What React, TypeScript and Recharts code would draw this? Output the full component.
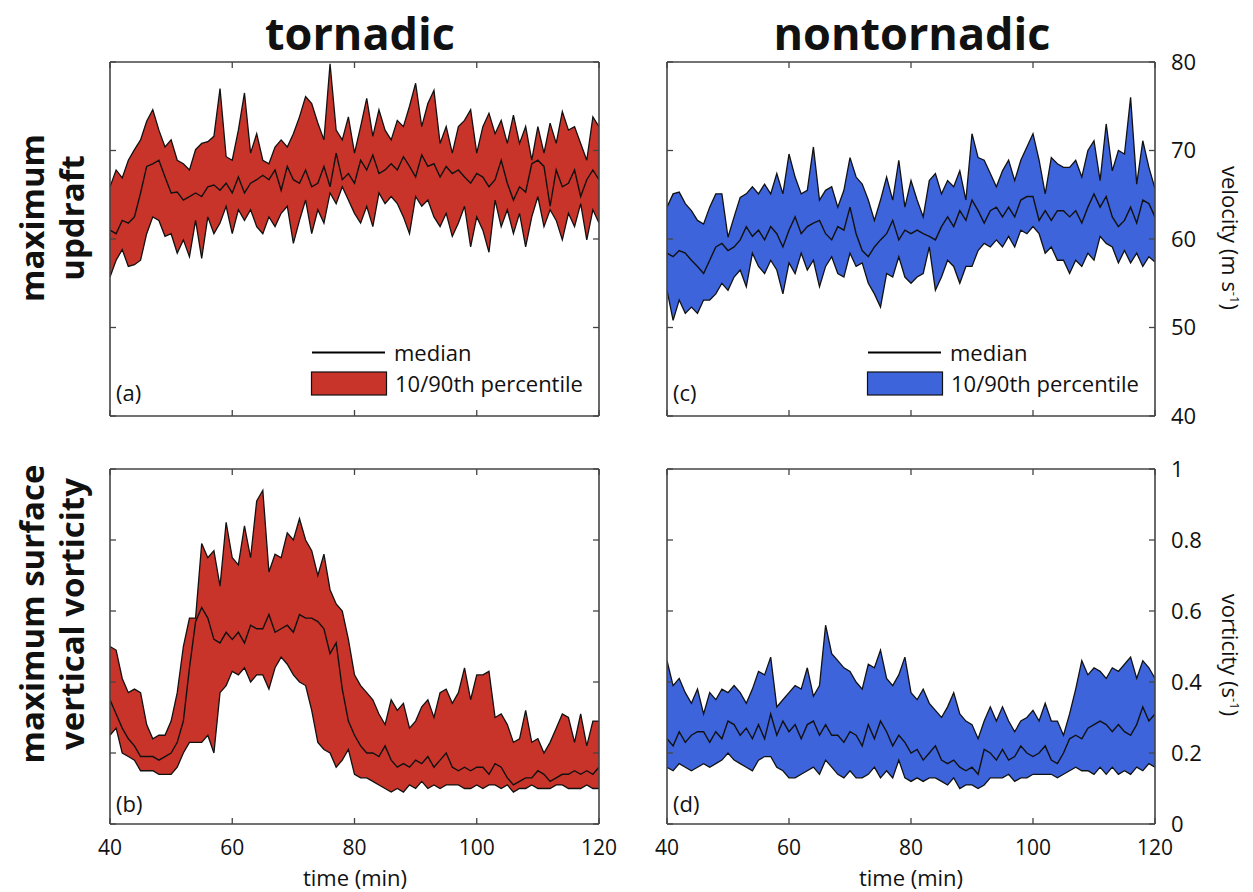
import React from 'react';
import { ComposedChart, Area, Line, XAxis, YAxis, Legend } from 'recharts';

// ---------------- data ----------------
const timeMin = [
  40, 41, 42, 43, 44, 45, 46, 47, 48, 49,
  50, 51, 52, 53, 54, 55, 56, 57, 58, 59,
  60, 61, 62, 63, 64, 65, 66, 67, 68, 69,
  70, 71, 72, 73, 74, 75, 76, 77, 78, 79,
  80, 81, 82, 83, 84, 85, 86, 87, 88, 89,
  90, 91, 92, 93, 94, 95, 96, 97, 98, 99,
  100, 101, 102, 103, 104, 105, 106, 107, 108, 109,
  110, 111, 112, 113, 114, 115, 116, 117, 118, 119, 120,
];

// (a) tornadic, maximum updraft (m/s)
const tornUpdraftP90 = [
  65.9, 67.8, 66.9, 68.9, 70.1, 71.2, 73.3, 74.6, 72.3, 70.4,
  71.2, 68.9, 68.5, 67.8, 70.1, 70.8, 71.0, 71.6, 77.0, 69.3,
  68.9, 72.3, 76.5, 69.7, 71.9, 68.9, 68.5, 70.4, 71.2, 70.4,
  71.9, 73.8, 76.1, 75.3, 73.1, 71.2, 79.8, 72.3, 71.2, 73.8,
  69.7, 72.7, 75.9, 71.6, 74.6, 72.3, 71.2, 73.4, 72.7, 75.0,
  77.6, 72.7, 75.3, 76.8, 70.8, 72.7, 69.7, 72.7, 73.4, 74.6,
  69.7, 72.7, 74.2, 71.9, 73.4, 70.8, 74.0, 70.8, 72.7, 68.9,
  72.7, 69.7, 73.1, 70.8, 74.4, 72.3, 72.7, 70.8, 68.9, 73.8, 72.7,
];
const tornUpdraftP10 = [
  55.7, 57.6, 58.8, 56.9, 57.1, 57.6, 60.6, 62.5, 62.1, 60.3,
  60.6, 58.4, 59.9, 58.0, 62.1, 57.8, 62.5, 60.6, 61.8, 63.7,
  60.6, 63.3, 62.1, 63.3, 61.4, 60.6, 62.5, 61.4, 62.9, 63.7,
  59.5, 62.1, 64.4, 60.6, 63.3, 61.8, 65.2, 64.0, 65.9, 64.4,
  62.9, 61.8, 63.7, 61.4, 65.2, 64.0, 64.8, 64.0, 62.5, 60.6,
  64.8, 63.7, 64.4, 62.5, 61.4, 62.9, 60.3, 61.8, 63.7, 59.1,
  62.5, 61.0, 58.5, 64.4, 61.4, 63.3, 60.6, 62.9, 59.1, 62.5,
  64.8, 61.4, 63.3, 62.1, 59.9, 62.9, 61.4, 64.0, 59.9, 63.3, 61.8,
];
const tornUpdraftMed = [
  61.0, 60.6, 62.1, 61.8, 62.5, 65.2, 68.2, 68.5, 68.9, 67.0,
  65.2, 65.3, 64.4, 64.8, 65.2, 64.8, 65.9, 66.1, 65.5, 66.3,
  65.2, 67.0, 65.2, 66.3, 66.7, 67.2, 66.7, 67.8, 65.5, 68.2,
  66.7, 66.3, 67.8, 65.9, 66.3, 68.2, 65.9, 69.7, 66.7, 67.4,
  66.3, 68.9, 67.8, 69.5, 67.4, 67.8, 68.5, 67.8, 69.3, 68.2,
  67.0, 69.5, 68.2, 68.5, 67.0, 68.2, 67.4, 67.8, 67.0, 66.3,
  67.4, 67.0, 65.9, 66.7, 68.9, 66.3, 64.4, 65.9, 65.3, 68.5,
  68.9, 68.2, 63.7, 67.8, 65.9, 66.3, 67.8, 64.8, 66.7, 67.8, 66.7,
];

// (c) nontornadic, maximum updraft (m/s)
const nonUpdraftP90 = [
  63.6, 65.1, 65.3, 64.0, 63.2, 62.1, 61.7, 63.6, 65.1, 65.1,
  60.2, 62.5, 64.7, 65.1, 65.9, 65.1, 66.2, 65.1, 67.4, 65.1,
  69.6, 67.0, 65.1, 65.5, 70.4, 64.4, 65.5, 65.9, 63.6, 65.5,
  69.2, 67.0, 66.2, 64.4, 62.1, 64.4, 67.0, 64.4, 68.9, 63.6,
  66.6, 64.4, 62.5, 66.6, 67.4, 65.1, 66.6, 65.9, 67.7, 64.4,
  71.9, 69.2, 68.9, 67.4, 65.9, 67.7, 68.9, 66.6, 68.9, 70.4,
  71.9, 68.9, 65.1, 69.2, 68.5, 68.1, 68.1, 68.9, 67.0, 70.0,
  71.1, 66.6, 73.0, 67.7, 70.0, 69.6, 76.0, 66.2, 71.1, 68.1, 65.7,
];
const nonUpdraftP10 = [
  54.2, 50.8, 53.1, 51.6, 52.3, 51.6, 53.1, 53.1, 53.8, 55.0,
  54.2, 55.7, 56.5, 54.6, 58.4, 56.9, 56.1, 57.6, 56.5, 53.8,
  57.3, 56.1, 58.4, 56.5, 57.6, 54.6, 56.9, 58.0, 56.1, 55.7,
  58.4, 56.9, 57.3, 55.0, 53.8, 52.3, 56.1, 55.7, 58.0, 55.7,
  55.0, 55.7, 56.1, 59.1, 54.2, 55.7, 57.6, 56.9, 55.0, 56.9,
  56.9, 58.7, 59.5, 59.1, 59.9, 59.1, 60.3, 59.1, 61.0, 60.6,
  61.4, 60.6, 58.4, 59.1, 57.6, 57.6, 56.1, 57.6, 56.9, 58.4,
  57.6, 60.3, 59.5, 59.1, 57.3, 58.7, 57.3, 58.4, 56.9, 58.0, 57.4,
];
const nonUpdraftMed = [
  58.4, 58.0, 58.7, 58.4, 57.6, 56.9, 56.1, 57.6, 59.1, 59.5,
  58.7, 59.1, 59.9, 61.4, 60.3, 61.0, 59.9, 61.4, 60.6, 59.1,
  61.0, 62.5, 60.6, 61.4, 61.8, 62.1, 60.6, 59.9, 61.4, 61.0,
  63.6, 60.6, 58.7, 58.0, 59.1, 59.9, 60.6, 62.1, 59.9, 61.0,
  60.6, 61.0, 60.6, 60.3, 59.9, 61.4, 62.5, 61.4, 63.2, 62.1,
  64.4, 63.2, 61.8, 63.2, 63.6, 62.5, 63.6, 62.5, 64.4, 64.8,
  64.8, 62.1, 63.2, 62.1, 63.2, 63.2, 62.5, 63.2, 61.8, 63.6,
  65.1, 63.6, 64.8, 62.5, 61.4, 62.1, 63.6, 61.8, 64.4, 64.0, 62.5,
];

// (b) tornadic, maximum surface vertical vorticity (1/s)
const tornVortP90 = [
  0.50, 0.49, 0.41, 0.37, 0.38, 0.37, 0.28, 0.24, 0.25, 0.25,
  0.29, 0.37, 0.50, 0.58, 0.58, 0.79, 0.75, 0.77, 0.67, 0.85,
  0.75, 0.73, 0.84, 0.75, 0.91, 0.94, 0.71, 0.76, 0.75, 0.82,
  0.80, 0.86, 0.80, 0.77, 0.70, 0.76, 0.66, 0.62, 0.60, 0.52,
  0.42, 0.39, 0.37, 0.35, 0.31, 0.28, 0.35, 0.32, 0.34, 0.27,
  0.29, 0.33, 0.35, 0.30, 0.37, 0.38, 0.34, 0.37, 0.44, 0.35,
  0.42, 0.42, 0.43, 0.30, 0.31, 0.28, 0.23, 0.24, 0.32, 0.23,
  0.24, 0.20, 0.23, 0.27, 0.31, 0.30, 0.23, 0.31, 0.22, 0.29, 0.29,
];
const tornVortP10 = [
  0.25, 0.27, 0.20, 0.19, 0.18, 0.15, 0.15, 0.15, 0.14, 0.14,
  0.14, 0.16, 0.20, 0.23, 0.23, 0.23, 0.25, 0.20, 0.37, 0.39,
  0.43, 0.42, 0.44, 0.40, 0.42, 0.42, 0.38, 0.44, 0.47, 0.45,
  0.42, 0.40, 0.39, 0.32, 0.23, 0.21, 0.20, 0.16, 0.18, 0.21,
  0.14, 0.13, 0.13, 0.12, 0.11, 0.10, 0.09, 0.10, 0.09, 0.11,
  0.10, 0.12, 0.10, 0.11, 0.10, 0.11, 0.11, 0.11, 0.10, 0.10,
  0.11, 0.10, 0.11, 0.11, 0.10, 0.11, 0.09, 0.10, 0.10, 0.11,
  0.10, 0.10, 0.10, 0.11, 0.11, 0.10, 0.10, 0.10, 0.11, 0.10, 0.10,
];
const tornVortMed = [
  0.35, 0.31, 0.27, 0.24, 0.22, 0.19, 0.19, 0.19, 0.18, 0.19,
  0.20, 0.23, 0.29, 0.44, 0.57, 0.61, 0.58, 0.52, 0.51, 0.54,
  0.52, 0.54, 0.51, 0.56, 0.55, 0.55, 0.59, 0.54, 0.55, 0.56,
  0.54, 0.59, 0.58, 0.58, 0.57, 0.55, 0.48, 0.51, 0.38, 0.29,
  0.25, 0.22, 0.20, 0.20, 0.19, 0.22, 0.18, 0.16, 0.17, 0.16,
  0.18, 0.17, 0.19, 0.16, 0.18, 0.20, 0.16, 0.15, 0.16, 0.15,
  0.16, 0.16, 0.14, 0.17, 0.16, 0.13, 0.11, 0.12, 0.13, 0.13,
  0.15, 0.14, 0.12, 0.13, 0.14, 0.14, 0.15, 0.14, 0.15, 0.14, 0.16,
];

// (d) nontornadic, maximum surface vertical vorticity (1/s)
const nonVortP90 = [
  0.46, 0.39, 0.41, 0.37, 0.34, 0.38, 0.31, 0.37, 0.35, 0.38,
  0.37, 0.39, 0.37, 0.34, 0.38, 0.43, 0.42, 0.47, 0.33, 0.35,
  0.37, 0.39, 0.38, 0.44, 0.36, 0.39, 0.56, 0.48, 0.46, 0.44,
  0.43, 0.40, 0.38, 0.45, 0.44, 0.49, 0.41, 0.39, 0.42, 0.47,
  0.37, 0.35, 0.38, 0.34, 0.32, 0.30, 0.33, 0.37, 0.31, 0.29,
  0.28, 0.24, 0.29, 0.33, 0.29, 0.33, 0.29, 0.26, 0.29, 0.30,
  0.32, 0.29, 0.34, 0.29, 0.29, 0.25, 0.31, 0.38, 0.46, 0.42,
  0.44, 0.43, 0.41, 0.44, 0.43, 0.45, 0.47, 0.41, 0.46, 0.44, 0.41,
];
const nonVortP10 = [
  0.16, 0.15, 0.17, 0.16, 0.15, 0.16, 0.17, 0.16, 0.17, 0.18,
  0.20, 0.18, 0.17, 0.16, 0.15, 0.18, 0.19, 0.19, 0.16, 0.15,
  0.13, 0.13, 0.14, 0.15, 0.16, 0.14, 0.18, 0.16, 0.14, 0.13,
  0.15, 0.13, 0.13, 0.14, 0.16, 0.13, 0.15, 0.13, 0.18, 0.13,
  0.12, 0.13, 0.12, 0.13, 0.13, 0.12, 0.11, 0.13, 0.10, 0.11,
  0.11, 0.10, 0.11, 0.13, 0.13, 0.13, 0.14, 0.12, 0.13, 0.13,
  0.14, 0.14, 0.14, 0.14, 0.13, 0.14, 0.15, 0.16, 0.15, 0.15,
  0.14, 0.16, 0.14, 0.16, 0.14, 0.15, 0.14, 0.16, 0.15, 0.17, 0.16,
];
const nonVortMed = [
  0.24, 0.22, 0.26, 0.23, 0.25, 0.26, 0.26, 0.23, 0.26, 0.24,
  0.29, 0.28, 0.25, 0.27, 0.24, 0.28, 0.24, 0.31, 0.25, 0.29,
  0.26, 0.28, 0.24, 0.28, 0.29, 0.25, 0.28, 0.25, 0.25, 0.23,
  0.26, 0.25, 0.22, 0.28, 0.24, 0.29, 0.26, 0.22, 0.25, 0.23,
  0.20, 0.21, 0.18, 0.20, 0.22, 0.18, 0.17, 0.18, 0.16, 0.15,
  0.16, 0.14, 0.21, 0.20, 0.18, 0.21, 0.18, 0.19, 0.22, 0.20,
  0.19, 0.20, 0.22, 0.18, 0.17, 0.20, 0.24, 0.25, 0.24, 0.27,
  0.28, 0.29, 0.28, 0.26, 0.28, 0.26, 0.25, 0.28, 0.33, 0.29, 0.31,
];

const timeTicks = [40, 60, 80, 100, 120];
const updraftTicks = [40, 50, 60, 70, 80];
const vortTicks = [0, 0.2, 0.4, 0.6, 0.8, 1];

const columnTitles = ['tornadic', 'nontornadic'];
const rowTitles = [['maximum', 'updraft'], ['maximum surface', 'vertical vorticity']];
const legendLabels = ['median', '10/90th percentile'];
const panelLetters = ['(a)', '(b)', '(c)', '(d)'];

// ---------------- styling ----------------
const FONT = "'Open Sans', 'Noto Sans', sans-serif";
const RED = '#C8342A';
const BLUE = '#3D64DB';
const FRAME = '#444';
const TICK_LEN = 6;

type Row = { t: number; lo: number; hi: number; med: number; band: [number, number] };

function buildRows(lo: number[], hi: number[], med: number[]): Row[] {
  return timeMin.map((t, i) => ({ t, lo: lo[i], hi: hi[i], med: med[i], band: [lo[i], hi[i]] }));
}

const tornUpdraftRows = buildRows(tornUpdraftP10, tornUpdraftP90, tornUpdraftMed);
const nonUpdraftRows = buildRows(nonUpdraftP10, nonUpdraftP90, nonUpdraftMed);
const tornVortRows = buildRows(tornVortP10, tornVortP90, tornVortMed);
const nonVortRows = buildRows(nonVortP10, nonVortP90, nonVortMed);

type Side = 'bottom' | 'top' | 'left' | 'right';

function makeTick(side: Side, showLabel: boolean) {
  return (props: any) => {
    const { x, y, payload } = props;
    const v = payload && payload.value;
    let line: any = null;
    let label: any = null;
    if (side === 'bottom') {
      line = <line x1={x} y1={y} x2={x} y2={y - TICK_LEN} stroke={FRAME} strokeWidth={1.3} />;
      if (showLabel)
        label = (
          <text x={x} y={y + 31} textAnchor="middle" fontSize={21} fontFamily={FONT} fill="#111">
            {String(v)}
          </text>
        );
    } else if (side === 'top') {
      line = <line x1={x} y1={y} x2={x} y2={y + TICK_LEN} stroke={FRAME} strokeWidth={1.3} />;
    } else if (side === 'left') {
      line = <line x1={x} y1={y} x2={x + TICK_LEN} y2={y} stroke={FRAME} strokeWidth={1.3} />;
    } else {
      line = <line x1={x} y1={y} x2={x - TICK_LEN} y2={y} stroke={FRAME} strokeWidth={1.3} />;
      if (showLabel)
        label = (
          <text x={x + 16} y={y} dy="0.36em" textAnchor="start" fontSize={22} fontFamily={FONT} fill="#111">
            {String(v)}
          </text>
        );
    }
    return (
      <g>
        {line}
        {label}
      </g>
    );
  };
}

function LegendBox({ fill }: { fill: string }) {
  return (
    <svg width={300} height={64} style={{ display: 'block', overflow: 'visible' }}>
      <line x1={1} x2={74} y1={14.5} y2={14.5} stroke="#000" strokeWidth={1.8} />
      <text x={83} y={23} fontSize={22} fontFamily={FONT} fill="#111">
        {legendLabels[0]}
      </text>
      <rect x={0.5} y={34} width={75} height={23} fill={fill} stroke="#111" strokeWidth={1.2} />
      <text x={84} y={54} fontSize={22} fontFamily={FONT} fill="#111">
        {legendLabels[1]}
      </text>
    </svg>
  );
}

type PanelProps = {
  rows: Row[];
  fill: string;
  yDomain: [number, number];
  yTicks: number[];
  showX: boolean;
  showY: boolean;
  legendPos?: { left: number; top: number };
  left: number;
  top: number;
  width: number;
  height: number;
  margin: { left: number; top: number; right: number; bottom: number };
};

function Panel(p: PanelProps) {
  const axisLine = { stroke: FRAME, strokeWidth: 1.6 };
  return (
    <div style={{ position: 'absolute', left: p.left, top: p.top }}>
      <ComposedChart width={p.width} height={p.height} data={p.rows} margin={p.margin}>
        <XAxis
          xAxisId="b"
          dataKey="t"
          type="number"
          domain={[40, 120]}
          ticks={timeTicks}
          interval={0}
          orientation="bottom"
          height={1}
          tickSize={0}
          tickMargin={0}
          tickLine={false}
          axisLine={axisLine}
          tick={makeTick('bottom', p.showX)}
          allowDataOverflow
        />
        <XAxis
          xAxisId="t"
          dataKey="t"
          type="number"
          domain={[40, 120]}
          ticks={timeTicks}
          interval={0}
          orientation="top"
          height={1}
          tickSize={0}
          tickMargin={0}
          tickLine={false}
          axisLine={axisLine}
          tick={makeTick('top', false)}
          allowDataOverflow
        />
        <YAxis
          yAxisId="l"
          type="number"
          domain={p.yDomain}
          ticks={p.yTicks}
          interval={0}
          orientation="left"
          width={1}
          tickSize={0}
          tickMargin={0}
          tickLine={false}
          axisLine={axisLine}
          tick={makeTick('left', false)}
          allowDataOverflow
        />
        <YAxis
          yAxisId="r"
          type="number"
          domain={p.yDomain}
          ticks={p.yTicks}
          interval={0}
          orientation="right"
          width={1}
          tickSize={0}
          tickMargin={0}
          tickLine={false}
          axisLine={axisLine}
          tick={makeTick('right', p.showY)}
          allowDataOverflow
        />
        <Area
          xAxisId="b"
          yAxisId="l"
          type="linear"
          dataKey="band"
          fill={p.fill}
          fillOpacity={1}
          stroke="none"
          isAnimationActive={false}
        />
        <Line xAxisId="b" yAxisId="l" type="linear" dataKey="hi" stroke="#111" strokeWidth={1.3} dot={false} isAnimationActive={false} />
        <Line xAxisId="b" yAxisId="l" type="linear" dataKey="lo" stroke="#111" strokeWidth={1.3} dot={false} isAnimationActive={false} />
        <Line xAxisId="b" yAxisId="l" type="linear" dataKey="med" stroke="#111" strokeWidth={1.4} dot={false} isAnimationActive={false} />
        {p.legendPos && (
          <Legend
            layout="horizontal"
            verticalAlign="middle"
            align="center"
            wrapperStyle={{ position: 'absolute', left: p.legendPos.left, top: p.legendPos.top, width: 300, height: 64 }}
            content={() => <LegendBox fill={p.fill} />}
          />
        )}
      </ComposedChart>
    </div>
  );
}

function Overlay() {
  const bold = { fontFamily: FONT, fontWeight: 700, fill: '#111' } as const;
  const reg = { fontFamily: FONT, fill: '#111' } as const;
  return (
    <svg
      width={1253}
      height={892}
      style={{ position: 'absolute', left: 0, top: 0, pointerEvents: 'none', zIndex: 2 }}
    >
      <text x={360} y={50} textAnchor="middle" fontSize={45} {...bold}>
        {columnTitles[0]}
      </text>
      <text x={912} y={50} textAnchor="middle" fontSize={45} {...bold}>
        {columnTitles[1]}
      </text>

      <g transform="translate(44,218) rotate(-90)">
        <text x={0} y={0} textAnchor="middle" fontSize={33} {...bold}>
          {rowTitles[0][0]}
        </text>
        <text x={0} y={40} textAnchor="middle" fontSize={33} {...bold}>
          {rowTitles[0][1]}
        </text>
      </g>
      <g transform="translate(44,614) rotate(-90)">
        <text x={0} y={0} textAnchor="middle" fontSize={33} {...bold}>
          {rowTitles[1][0]}
        </text>
        <text x={0} y={40} textAnchor="middle" fontSize={33} {...bold}>
          {rowTitles[1][1]}
        </text>
      </g>

      <g transform="translate(1222,238) rotate(90)">
        <text x={0} y={0} textAnchor="middle" fontSize={22} {...reg}>
          velocity (m s<tspan dy={-8} fontSize={13}>-1</tspan>
          <tspan dy={8}>)</tspan>
        </text>
      </g>
      <g transform="translate(1222,655) rotate(90)">
        <text x={0} y={0} textAnchor="middle" fontSize={22} {...reg}>
          vorticity (s<tspan dy={-8} fontSize={13}>-1</tspan>
          <tspan dy={8}>)</tspan>
        </text>
      </g>

      <text x={355} y={886} textAnchor="middle" fontSize={22} {...reg}>
        time (min)
      </text>
      <text x={911} y={886} textAnchor="middle" fontSize={22} {...reg}>
        time (min)
      </text>

      <text x={116} y={401} fontSize={22} {...reg}>{panelLetters[0]}</text>
      <text x={116} y={812} fontSize={22} {...reg}>{panelLetters[1]}</text>
      <text x={673} y={401} fontSize={22} {...reg}>{panelLetters[2]}</text>
      <text x={673} y={812} fontSize={22} {...reg}>{panelLetters[3]}</text>
    </svg>
  );
}

export default function App() {
  return (
    <div style={{ position: 'absolute', left: 0, top: 0, width: 1253, height: 892, background: '#fff', fontFamily: FONT }}>
      <Panel
        rows={tornUpdraftRows}
        fill={RED}
        yDomain={[40, 80]}
        yTicks={updraftTicks}
        showX={false}
        showY={false}
        legendPos={{ left: 211, top: 288 }}
        left={100}
        top={50}
        width={520}
        height={380}
        margin={{ left: 9, top: 11, right: 20, bottom: 13 }}
      />
      <Panel
        rows={nonUpdraftRows}
        fill={BLUE}
        yDomain={[40, 80]}
        yTicks={updraftTicks}
        showX={false}
        showY={true}
        legendPos={{ left: 210, top: 298 }}
        left={657}
        top={40}
        width={596}
        height={394}
        margin={{ left: 9, top: 21, right: 97, bottom: 17 }}
      />
      <Panel
        rows={tornVortRows}
        fill={RED}
        yDomain={[0, 1]}
        yTicks={vortTicks}
        showX={true}
        showY={false}
        left={90}
        top={445}
        width={530}
        height={447}
        margin={{ left: 19, top: 23, right: 20, bottom: 67 }}
      />
      <Panel
        rows={nonVortRows}
        fill={BLUE}
        yDomain={[0, 1]}
        yTicks={vortTicks}
        showX={true}
        showY={true}
        left={640}
        top={445}
        width={613}
        height={447}
        margin={{ left: 26, top: 23, right: 97, bottom: 67 }}
      />
      <Overlay />
    </div>
  );
}
